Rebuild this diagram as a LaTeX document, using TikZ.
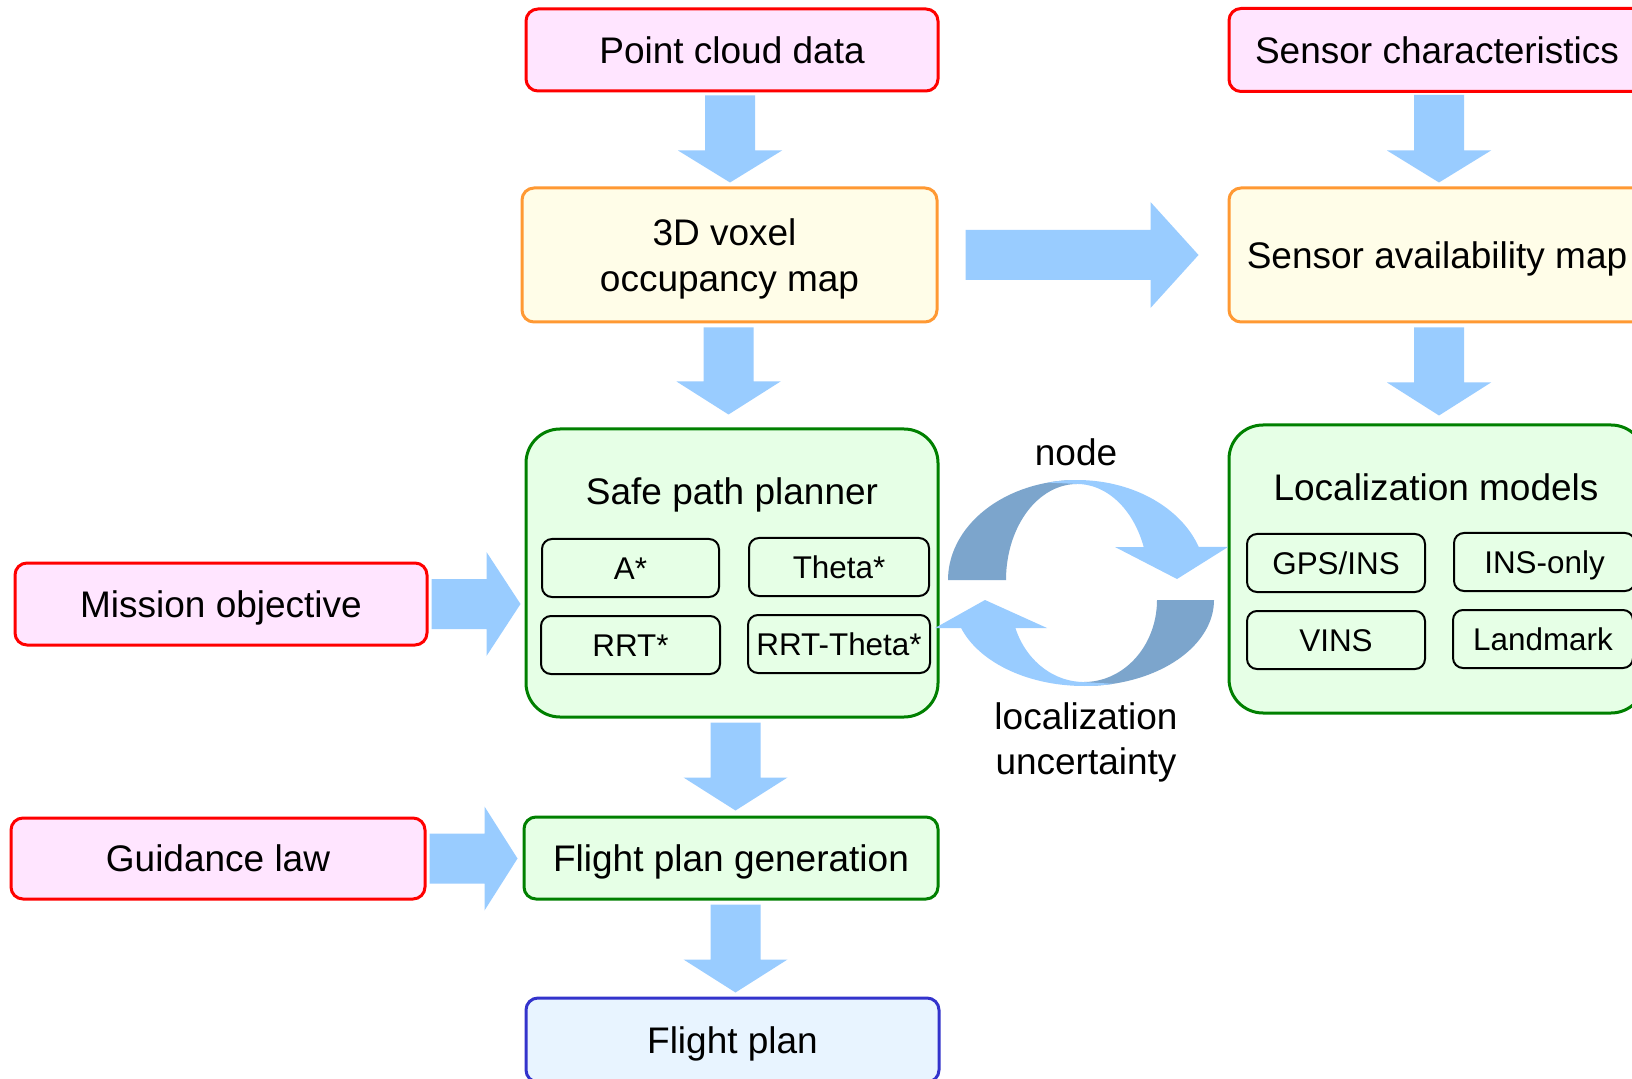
\documentclass[tikz,border=0pt]{standalone}
\usepackage{fontspec}
\setmainfont{Liberation Sans}
\usetikzlibrary{calc}
\definecolor{redb}{RGB}{255,0,0}
\definecolor{pinkf}{RGB}{255,229,255}
\definecolor{orangeb}{RGB}{255,153,51}
\definecolor{yellowf}{RGB}{255,253,232}
\definecolor{greenb}{RGB}{0,128,0}
\definecolor{greenf}{RGB}{230,255,230}
\definecolor{blueb}{RGB}{51,51,204}
\definecolor{bluef}{RGB}{232,244,255}
\definecolor{arrowblue}{RGB}{153,204,255}
\definecolor{arrowdark}{RGB}{124,165,204}
\newcommand\mainsz{\fontsize{18.5}{23}\selectfont}
\newcommand\subsz{\fontsize{15.7}{19}\selectfont}
% vertical block arrow: src, dst, gap top, gap bottom, head length, x shift
\newcommand\vblock[6]{%
 \fill[arrowblue] let \p1=(#1.south), \p2=(#2.north) in
 (\x2+#6-12.5pt,\y1-#3) -- (\x2+#6+12.5pt,\y1-#3) -- (\x2+#6+12.5pt,\y2+#4+#5)
 -- (\x2+#6+26pt,\y2+#4+#5) -- (\x2+#6,\y2+#4) -- (\x2+#6-26pt,\y2+#4+#5)
 -- (\x2+#6-12.5pt,\y2+#4+#5) -- cycle;}
% horizontal block arrow: src, dst, gap left, gap right, head length, head half width
\newcommand\hblock[6]{%
 \fill[arrowblue] let \p1=(#1.east), \p2=(#2.west) in
 (\x1+#3,\y1+12.5pt) -- (\x2-#4-#5,\y1+12.5pt) -- (\x2-#4-#5,\y1+#6)
 -- (\x2-#4,\y1) -- (\x2-#4-#5,\y1-#6) -- (\x2-#4-#5,\y1-12.5pt)
 -- (\x1+#3,\y1-12.5pt) -- cycle;}
\tikzset{
 box/.style={draw, rounded corners=6pt, line width=1.5pt, inner sep=0pt,
   text height=13.3pt, text depth=0pt, font=\mainsz},
 pinkbox/.style={box, draw=redb, fill=pinkf},
 yellowbox/.style={box, draw=orangeb, fill=yellowf},
 greenbox/.style={box, draw=greenb, fill=greenf},
 bluebox/.style={box, draw=blueb, fill=bluef},
 bigbox/.style={draw=greenb, fill=greenf, line width=1.5pt, rounded corners=17pt, inner sep=0pt},
 subbox/.style={draw=black, fill=greenf, rounded corners=5pt, line width=1pt,
   minimum height=29pt, inner sep=0pt, text height=11.3pt, text depth=0pt, font=\subsz},
 lbl/.style={font=\mainsz, inner sep=0pt, text height=13.3pt, text depth=0pt},
}
\begin{document}
\begin{tikzpicture}[x=0.5pt,y=-0.5pt]
\useasboundingbox[fill=white] (0,0) rectangle (1632,1079);

% main boxes
\node[pinkbox, minimum width=206pt, minimum height=41pt] (pcd) at (732,50) {Point cloud data};
\node[pinkbox, minimum width=208pt, minimum height=41.5pt] (sc) at (1437,50) {Sensor characteristics};
\node[yellowbox, minimum width=207.5pt, minimum height=67pt, align=center, text height=36.3pt, text depth=0pt] (vox) at (729.5,255) {3D voxel\kern5pt\\occupancy map};
\node[yellowbox, minimum width=208pt, minimum height=67pt] (sam) at (1437,255) {Sensor availability map};
\node[bigbox, minimum width=206pt, minimum height=144pt] (spp) at (732,573) {};
\node[bigbox, minimum width=208pt, minimum height=144pt] (lm) at (1437,569) {};
\node[pinkbox, minimum width=206pt, minimum height=41pt] (mo) at (221,604) {Mission objective};
\node[pinkbox, minimum width=207pt, minimum height=40.5pt] (gl) at (218,858.5) {Guidance law};
\node[greenbox, minimum width=207pt, minimum height=41pt] (fpg) at (731,858) {Flight plan generation};
\node[bluebox, minimum width=206.5pt, minimum height=42pt] (fp) at (732.5,1040) {Flight plan};

% titles inside big boxes
\node[lbl] (sppt) at (732,491) {Safe path planner};
\node[lbl] (lmt) at (1436,487) {Localization models};

% sub boxes
\node[subbox, minimum width=88.5pt] (astar) at (630.5,568) {A*};
\node[subbox, minimum width=90pt] (theta) at (839,567) {Theta*};
\node[subbox, minimum width=89.5pt] (rrt) at (630.5,645) {RRT*};
\node[subbox, minimum width=91pt] (rrtt) at (839,644) {RRT-Theta*};
\node[subbox, minimum width=89pt] (gps) at (1336,563) {GPS/INS};
\node[subbox, minimum width=90.5pt] (ins) at (1544.5,562) {INS-only};
\node[subbox, minimum width=89pt] (vins) at (1336,640) {VINS};
\node[subbox, minimum width=90pt] (land) at (1543,639) {Landmark};

% block arrows
\vblock{pcd}{vox}{1.5pt}{2pt}{16pt}{0.25pt}
\vblock{sc}{sam}{1pt}{2pt}{16pt}{1pt}
\vblock{vox}{spp}{2pt}{6.5pt}{16.5pt}{-1.75pt}
\vblock{sam}{lm}{2pt}{4pt}{16.5pt}{1pt}
\vblock{spp}{fpg}{2pt}{2.5pt}{16.5pt}{2.25pt}
\vblock{fpg}{fp}{2pt}{2pt}{16.5pt}{1.5pt}
\hblock{mo}{spp}{1.5pt}{2pt}{17pt}{26pt}
\hblock{gl}{fpg}{1.5pt}{2.5pt}{16.5pt}{26pt}
\hblock{vox}{sam}{13.5pt}{14.5pt}{24pt}{26.5pt}

% cycle arrows (upper)
\fill[arrowdark] plot[domain=180:90, samples=40] ({1077+129*cos(\x)},{580-100*sin(\x)})
  -- plot[domain=90:180, samples=40] ({1077+71*cos(\x)},{580-96*sin(\x)}) -- cycle;
\fill[arrowblue] plot[domain=103:19.27, samples=40] ({1077+129*cos(\x)},{580-100*sin(\x)})
  -- (1228,547) -- (1177,579) -- (1115,547)
  -- plot[domain=20.1:88, samples=40] ({1077+71*cos(\x)},{580-96*sin(\x)}) -- cycle;
% cycle arrows (lower)
\fill[arrowdark] plot[domain=0:-90, samples=40] ({1084+130*cos(\x)},{600-86*sin(\x)})
  -- plot[domain=-90:0, samples=40] ({1084+73*cos(\x)},{600-82*sin(\x)}) -- cycle;
\fill[arrowblue] plot[domain=-77:-161, samples=40] ({1084+130*cos(\x)},{600-86*sin(\x)})
  -- (935,628) -- (985,600) -- (1047,628)
  -- plot[domain=-160:-92, samples=40] ({1084+73*cos(\x)},{600-82*sin(\x)}) -- cycle;

\node[lbl] (nd) at (1076,452) {node};
\node[lbl] (lu1) at (1086,716) {localization};
\node[lbl] (lu2) at (1086,761) {uncertainty};
\end{tikzpicture}
\end{document}
